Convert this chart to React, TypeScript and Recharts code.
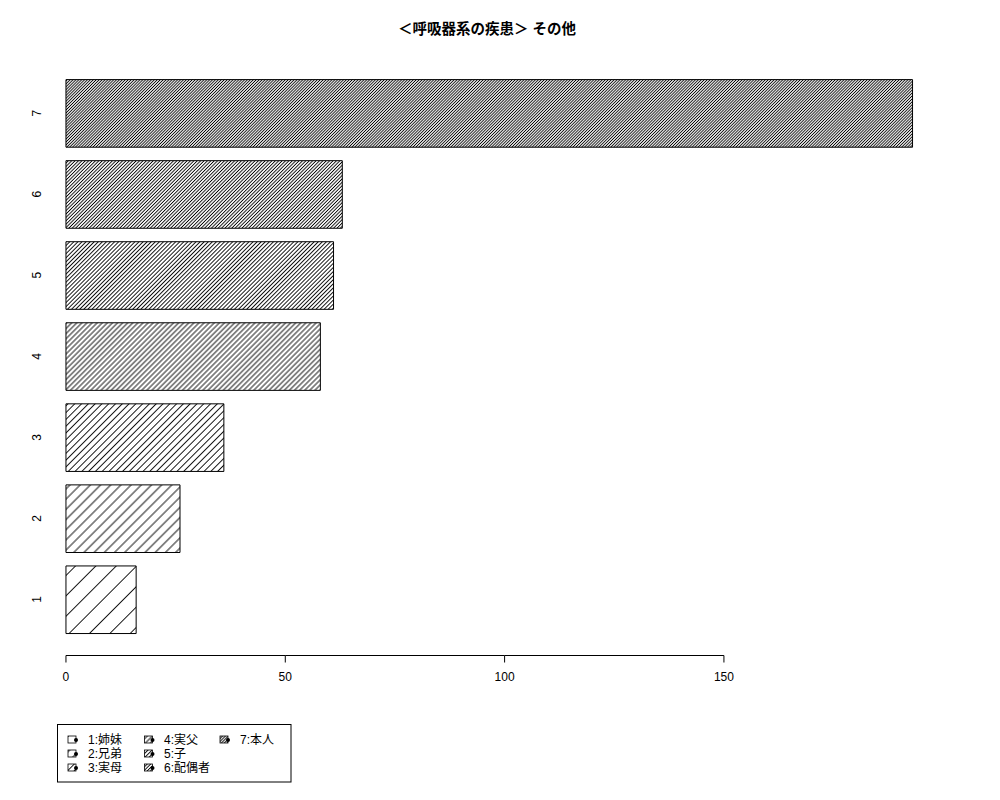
import React from 'react';
import { BarChart, Bar, XAxis, YAxis, Cell } from 'recharts';

const categories = ['1', '2', '3', '4', '5', '6', '7'];
const values = [16, 26, 36, 58, 61, 63, 193];
const legendNames = ['姉妹', '兄弟', '実母', '実父', '子', '配偶者', '本人'];
const densities = [5, 10, 15, 20, 25, 30, 35];
const xTicks = [0, 50, 100, 150];
const title = '＜呼吸器系の疾患＞ その他';

const data = categories.map((c, i) => ({ label: c, value: values[i] }));
const maxVal = Math.max(...values);
const xDomain = [-0.04 * maxVal, maxVal * 1.04];

const FONT = '"Liberation Sans", Arial, "Noto Sans CJK JP", sans-serif';
const TICK_SIZE = 7;
const TICK_MARGIN = 10;

const Patterns = ({ prefix }: { prefix: string }) => (
  <defs>
    {densities.map((d, i) => {
      const s = 72 / d;
      return (
        <pattern
          key={i}
          id={`${prefix}${i}`}
          patternUnits="userSpaceOnUse"
          width={s}
          height={s}
          patternTransform="rotate(45)"
        >
          <rect x={0} y={0} width={s} height={s} fill="#fff" />
          <line x1={s / 2} y1={-1} x2={s / 2} y2={s + 1} stroke="#000" strokeWidth={0.9} />
        </pattern>
      );
    })}
  </defs>
);

const tickXs: number[] = [];

const renderXTick = (props: any) => {
  const { x, y, payload, index } = props;
  const cx = payload && typeof payload.coordinate === 'number' ? payload.coordinate : x;
  tickXs[index] = cx;
  const axisY = y - TICK_SIZE - TICK_MARGIN;
  const prev = index > 0 ? tickXs[index - 1] : undefined;
  return (
    <g key={`xt-${index}`}>
      {prev !== undefined && (
        <line x1={prev} y1={axisY} x2={cx} y2={axisY} stroke="#000" strokeWidth={1} />
      )}
      <line x1={cx} y1={axisY} x2={cx} y2={axisY + TICK_SIZE} stroke="#000" strokeWidth={1} />
      <text x={x} y={y} dy="0.71em" textAnchor="middle" fontSize={12} fontFamily={FONT} fill="#000">
        {payload.value}
      </text>
    </g>
  );
};

const renderYTick = (props: any) => {
  const { x, y, payload, index } = props;
  const bx = x + 8.6;
  return (
    <text
      key={`yt-${index}`}
      x={bx}
      y={y}
      transform={`rotate(-90, ${bx}, ${y})`}
      textAnchor="middle"
      fontSize={12}
      fontFamily={FONT}
      fill="#000"
    >
      {payload.value}
    </text>
  );
};

const colIconX = [68, 144.5, 220];
const colTextX = [88, 164, 240];
const rowY = [739.5, 753.5, 767.5];

export default function App() {
  return (
    <div style={{ position: 'absolute', left: 0, top: 0, width: 1000, height: 800, background: '#fff' }}>
      <BarChart
        width={1000}
        height={800}
        data={data}
        layout="vertical"
        margin={{ top: 57.1, right: 53.6, bottom: 104.5, left: 12.1 }}
      >
        <Patterns prefix="hatch" />
        <XAxis
          type="number"
          domain={xDomain}
          allowDataOverflow
          ticks={xTicks}
          height={40}
          axisLine={false}
          tickLine={false}
          tickSize={TICK_SIZE}
          tickMargin={TICK_MARGIN}
          tick={renderXTick}
        />
        <YAxis
          type="category"
          dataKey="label"
          reversed
          width={20}
          axisLine={false}
          tickLine={false}
          tickSize={0}
          tickMargin={0}
          padding={{ top: 15.5, bottom: 15.5 }}
          tick={renderYTick}
        />
        <Bar dataKey="value" barSize={67.6} stroke="#000" strokeWidth={1} isAnimationActive={false}>
          {data.map((_, i) => (
            <Cell key={i} fill={`url(#hatch${i})`} />
          ))}
        </Bar>
      </BarChart>
      <svg
        width={1000}
        height={800}
        style={{ position: 'absolute', left: 0, top: 0, pointerEvents: 'none' }}
      >
        <Patterns prefix="lhatch" />
        <text
          x={487}
          y={34}
          textAnchor="middle"
          fontSize={14.5}
          fontWeight="bold"
          fontFamily={FONT}
          fill="#000"
        >
          {title}
        </text>
        <rect x={57.5} y={724.5} width={233.5} height={57.5} fill="none" stroke="#000" strokeWidth={1} />
        {categories.map((c, i) => {
          const col = Math.floor(i / 3);
          const row = i % 3;
          const ix = colIconX[col];
          const cy = rowY[row];
          return (
            <g key={i}>
              <rect x={ix} y={cy - 3.5} width={8} height={7} fill={`url(#lhatch${i})`} stroke="#000" strokeWidth={0.8} />
              <circle cx={ix + 8} cy={cy + 0.5} r={2} fill="#000" />
              <text x={colTextX[col]} y={cy + 4.3} fontSize={12} fontFamily={FONT} fill="#000">
                {`${c}:${legendNames[i]}`}
              </text>
            </g>
          );
        })}
      </svg>
    </div>
  );
}
